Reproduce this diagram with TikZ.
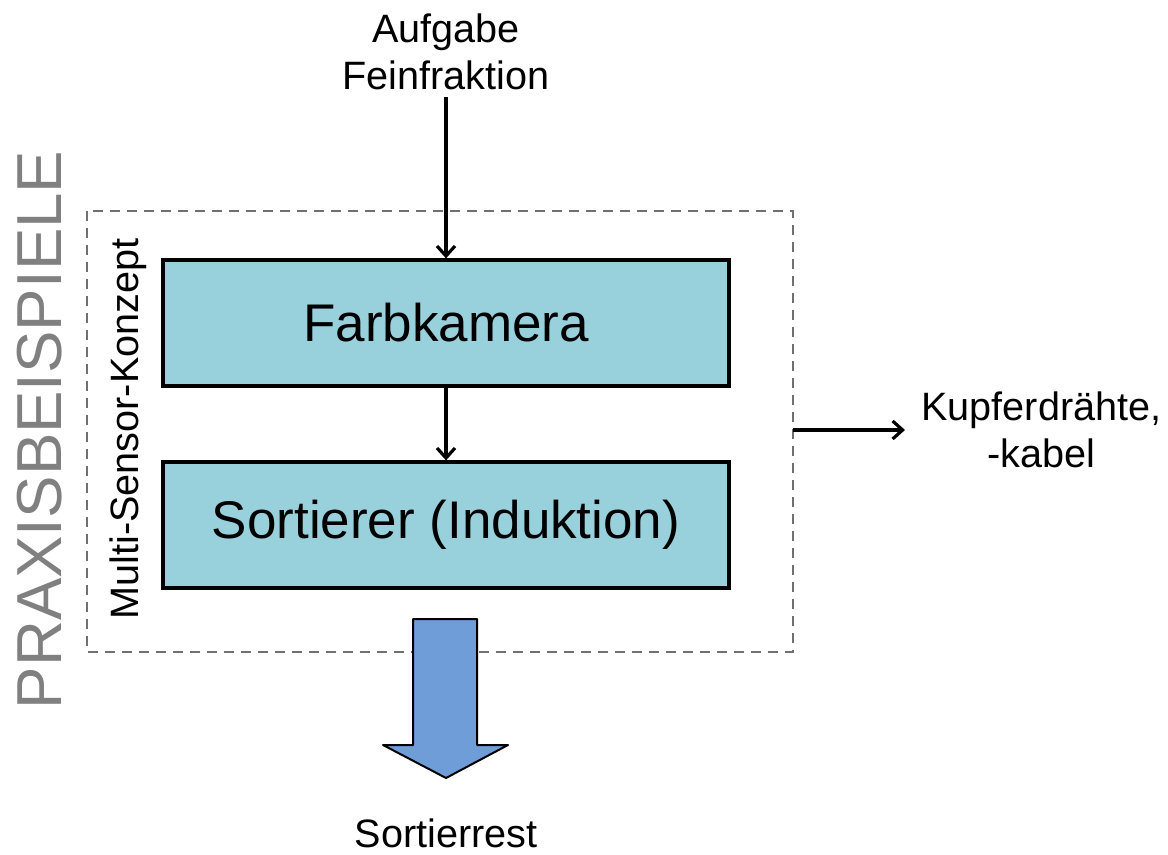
\documentclass[tikz,border=0pt]{standalone}
\usepackage{fontspec}
\setmainfont{Liberation Sans}
\usetikzlibrary{arrows.meta}
\definecolor{boxfill}{HTML}{98D0DC}
\definecolor{bigarrow}{HTML}{6F9DD8}
\definecolor{framegray}{HTML}{707070}
\definecolor{titlegray}{HTML}{808080}
\tikzset{
  stage/.style={draw=black, line width=1.6pt, fill=boxfill, minimum width=283pt, minimum height=63pt, inner sep=0pt, font=\fontsize{26.5}{30}\selectfont},
  label/.style={font=\fontsize{19.8}{23.5}\selectfont, align=center, inner sep=0pt},
  flowline/.style={draw=black, line width=1.6pt, -{Straight Barb[length=5pt,width=9pt,line width=1.6pt]}},
  frame/.style={draw=framegray, line width=0.8pt, dash pattern=on 5pt off 3.5pt}
}
\begin{document}
\begin{tikzpicture}[x=0.5pt,y=-0.5pt]
\useasboundingbox (0,0) rectangle (1168,855);
% dashed frame of the multi-sensor concept
\draw[frame] (87,211) rectangle (793,652);
\coordinate (frameE) at (793,430);
\coordinate (copperW) at (905,430);
\coordinate (feedS) at (446,97);
% processing stages
\node[stage] (cam) at (446,323) {Farbkamera};
\node[stage] (sort) at (446,525) {Sortierer (Induktion)};
% labels
\node[label] (feed) at (446,52) {Aufgabe\\Feinfraktion};
\node[label, anchor=west] (copper) at (921,430) {Kupferdrähte,\\-kabel};
\node[label] (rest) at (446,833) {Sortierrest};
\node[label, rotate=90] (msk) at (128,429) {Multi-Sensor-Konzept};
\node[font=\fontsize{31.8}{36}\selectfont, text=titlegray, rotate=90, inner sep=0pt] (title) at (40,430) {PRAXISBEISPIELE};
% connectors
\draw[flowline] (feedS) -- (cam.north);
\draw[flowline] (cam.south) -- (sort.north);
\draw[flowline] (frameE) -- (copperW);
% block arrow to the residue
\draw[line width=1pt, fill=bigarrow, line join=round]
  (413,619) -- (477,619) -- (477,745) -- (508,745) -- (446,778)
  -- (383,745) -- (413,745) -- cycle;
\end{tikzpicture}
\end{document}
